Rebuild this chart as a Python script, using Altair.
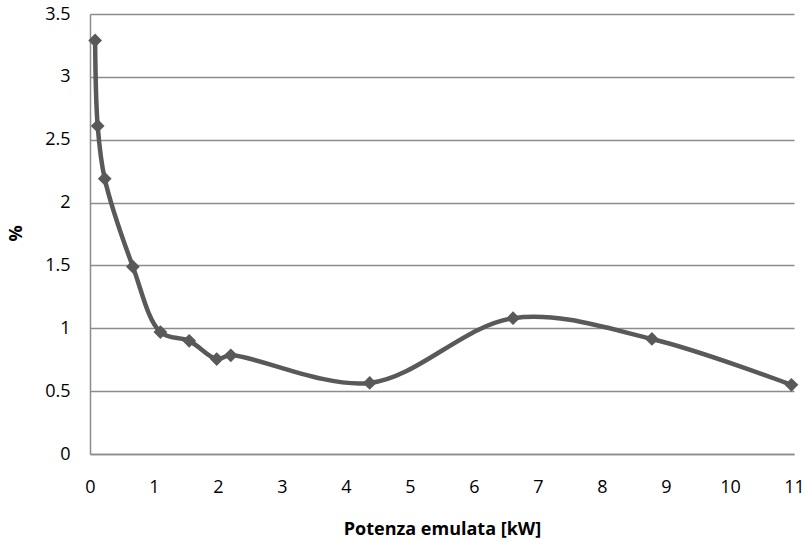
import altair as alt
import pandas as pd

potenza = [0.08, 0.12, 0.23, 0.67, 1.10, 1.55, 1.98, 2.20, 4.37, 6.61, 8.78, 10.96]
percento = [3.29, 2.61, 2.19, 1.49, 0.97, 0.90, 0.755, 0.785, 0.565, 1.08, 0.915, 0.55]

df = pd.DataFrame({"x": potenza, "y": percento})

FONT = "Open Sans"
LINE = "#595959"

x = alt.X("x:Q", title="Potenza emulata [kW]",
          scale=alt.Scale(domain=[0, 11], nice=False, zero=False),
          axis=alt.Axis(values=list(range(0, 12)), grid=False, ticks=False,
                        domainColor="#8c8c8c", domainWidth=1.5,
                        labelFont=FONT, labelFontSize=18, labelColor="#000000",
                        labelPadding=24, labelFlush=False,
                        titleFont=FONT, titleFontSize=18, titleFontWeight="bold",
                        titleColor="#000000", titleY=80, titleBaseline="alphabetic"))
y = alt.Y("y:Q", title="%",
          scale=alt.Scale(domain=[0, 3.5], nice=False),
          axis=alt.Axis(values=[0, 0.5, 1, 1.5, 2, 2.5, 3, 3.5], grid=True, format=".1~f",
                        gridColor="#8c8c8c", gridWidth=1.5, ticks=False,
                        domainColor="#8c8c8c", domainWidth=1.5,
                        labelFont=FONT, labelFontSize=18, labelColor="#000000",
                        labelPadding=20, labelFlush=False,
                        titleFont=FONT, titleFontSize=18, titleFontWeight="bold",
                        titleColor="#000000", titleAngle=-90, titleX=-74, titleY=219,
                        titleAlign="center", titleBaseline="middle"))

line = alt.Chart(df).mark_line(interpolate="catmull-rom", color=LINE, strokeWidth=4.5).encode(x=x, y=y)
pts = alt.Chart(df).mark_point(shape="diamond", filled=True, color=LINE, size=190, opacity=1).encode(x=x, y=y)

chart = (line + pts).properties(
    width=704, height=440,
    autosize=alt.AutoSizeParams(type="none"),
    padding={"left": 90, "top": 14, "right": 11, "bottom": 87},
    background="white",
).configure_view(stroke=None)

chart.save("out.html", embed_options={"renderer": "svg", "actions": False})
